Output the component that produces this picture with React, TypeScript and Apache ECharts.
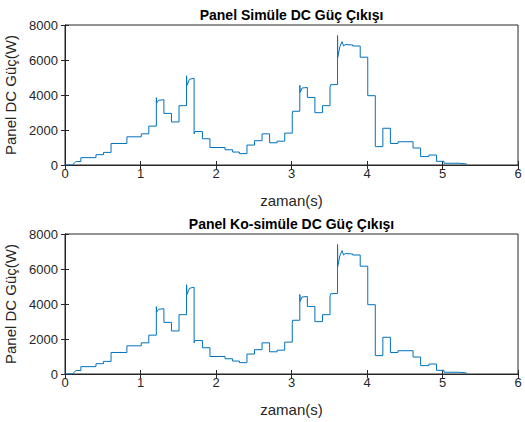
import React, { useEffect, useRef } from "react";
import * as echarts from "echarts";

// time (s) and DC power (W) (step profile with transients)
const timeS: number[] = [
  0, 0.1, 0.13, 0.15, 0.21, 0.21, 0.41, 0.41, 0.51, 0.51, 0.61, 0.61, 0.82, 0.82,
  1.01, 1.01, 1.11, 1.11, 1.21, 1.21, 1.215, 1.24, 1.31, 1.31, 1.41, 1.41, 1.51, 1.51,
  1.61, 1.61, 1.615, 1.65, 1.71, 1.71, 1.72, 1.82, 1.82, 1.92, 1.92, 2.12, 2.12, 2.22,
  2.22, 2.31, 2.31, 2.41, 2.41, 2.51, 2.51, 2.61, 2.61, 2.71, 2.71, 2.81, 2.81, 2.91,
  2.91, 3.01, 3.01, 3.015, 3.11, 3.11, 3.115, 3.14, 3.21, 3.21, 3.31, 3.31, 3.41, 3.41,
  3.51, 3.51, 3.52, 3.61, 3.61, 3.612, 3.64, 3.67, 3.69, 3.71, 3.81, 3.81, 3.91, 3.91,
  4.01, 4.01, 4.11, 4.11, 4.21, 4.21, 4.31, 4.31, 4.41, 4.41, 4.61, 4.61, 4.71, 4.71,
  4.82, 4.82, 4.92, 4.92, 5.02, 5.02, 5.22, 5.32,
];
const powerW: number[] = [
  0, 0, 150, 200, 200, 420, 420, 590, 590, 720, 720, 1230, 1230, 1610,
  1610, 1780, 1780, 2220, 2220, 3850, 3550, 3700, 3730, 2950, 2950, 2460, 2460, 3390,
  3390, 5100, 4550, 4900, 4960, 1780, 1910, 1910, 1500, 1500, 1000, 1000, 870, 870,
  740, 740, 650, 650, 1140, 1140, 1390, 1390, 1780, 1780, 1270, 1270, 1360, 1360,
  1820, 1820, 2900, 3070, 3070, 4550, 4150, 4400, 4430, 3860, 3860, 2990, 2990, 3390,
  3390, 4450, 4590, 4600, 7400, 6150, 6750, 7050, 6800, 6880, 6860, 6800, 6800, 6160,
  6160, 3960, 3960, 1050, 1050, 2100, 2100, 1230, 1230, 1330, 1330, 970, 970, 480,
  480, 570, 570, 210, 210, 100, 100, 60,
];
const xTicks = { min: 0, max: 6, interval: 1 };
const yTicks = { min: 0, max: 8000, interval: 2000 };
const titles: string[] = ["Panel Simüle DC Güç Çıkışı", "Panel Ko-simüle DC Güç Çıkışı"];
const xName = "zaman(s)";
const yName = "Panel DC Güç(W)";

const FONT = "'Liberation Sans', Arial, Helvetica, sans-serif";
const INK = "#262626";

export default function App() {
  const ref = useRef<HTMLDivElement>(null);
  useEffect(() => {
    if (!ref.current) return;
    const chart = echarts.init(ref.current, undefined, { renderer: "svg" });
    const pairs = timeS.map((t, i) => [t, powerW[i]]);
    const gridTops = [25, 234];
    const grids = gridTops.map((top) => ({
      left: 65,
      width: 453,
      top,
      height: 140,
      containLabel: false,
      outerBoundsMode: "none",
      show: true,
      borderColor: INK,
      borderWidth: 1,
      backgroundColor: "#fff",
    }));
    const plain = (v: number) => String(v);
    const xAxes: any[] = [];
    const yAxes: any[] = [];
    const series: any[] = [];
    const graphics: any[] = [];
    gridTops.forEach((top, g) => {
      xAxes.push({
        type: "value",
        gridIndex: g,
        position: "bottom",
        ...xTicks,
        name: xName,
        nameLocation: "middle",
        nameGap: 28,
        nameTextStyle: { fontFamily: FONT, fontSize: 15, color: INK },
        axisLine: { show: true, lineStyle: { color: INK, width: 1 } },
        axisTick: { show: true, inside: true, length: 4, lineStyle: { color: INK } },
        axisLabel: { fontFamily: FONT, fontSize: 13, color: INK, margin: 2, formatter: plain },
        splitLine: { show: false },
      });
      xAxes.push({
        type: "value",
        gridIndex: g,
        position: "top",
        ...xTicks,
        axisLine: { show: true, lineStyle: { color: INK, width: 1 } },
        axisTick: { show: true, inside: true, length: 4, lineStyle: { color: INK } },
        axisLabel: { show: false },
        splitLine: { show: false },
      });
      yAxes.push({
        type: "value",
        gridIndex: g,
        position: "left",
        ...yTicks,
        name: yName,
        nameLocation: "middle",
        nameGap: 37,
        nameTextStyle: { fontFamily: FONT, fontSize: 15, color: INK },
        axisLine: { show: true, lineStyle: { color: INK, width: 1 } },
        axisTick: { show: true, inside: true, length: 4, lineStyle: { color: INK } },
        axisLabel: { fontFamily: FONT, fontSize: 13, color: INK, margin: 7, formatter: plain },
        splitLine: { show: false },
      });
      yAxes.push({
        type: "value",
        gridIndex: g,
        position: "right",
        ...yTicks,
        axisLine: { show: true, lineStyle: { color: INK, width: 1 } },
        axisTick: { show: true, inside: true, length: 4, lineStyle: { color: INK } },
        axisLabel: { show: false },
        splitLine: { show: false },
      });
      series.push({
        type: "line",
        xAxisIndex: g * 2,
        yAxisIndex: g * 2,
        data: pairs,
        showSymbol: false,
        symbol: "none",
        lineStyle: { color: "#0072BD", width: 1 },
        z: 5,
      });
      graphics.push({
        type: "text",
        x: 291.5,
        y: top - 10,
        style: {
          text: titles[g],
          fontFamily: FONT,
          fontSize: 14,
          fontWeight: "bold",
          fill: "#000",
          textAlign: "center",
          textVerticalAlign: "middle",
        },
      });
    });
    chart.setOption({
      animation: false,
      backgroundColor: "#fff",
      grid: grids,
      xAxis: xAxes,
      yAxis: yAxes,
      series,
      graphic: graphics,
    });
    return () => chart.dispose();
  }, []);
  return (
    <div
      ref={ref}
      style={{ position: "fixed", left: 0, top: 0, width: 525, height: 422, background: "#fff" }}
    />
  );
}
